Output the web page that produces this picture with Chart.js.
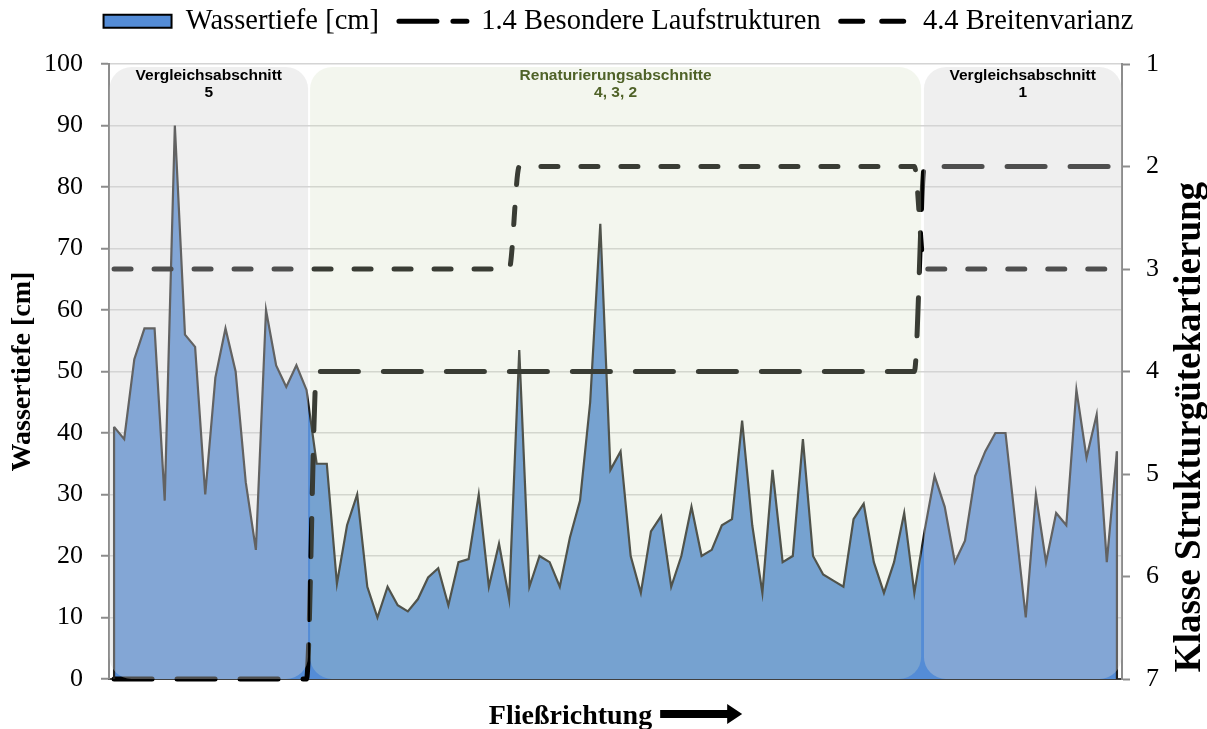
<!DOCTYPE html>
<html>
<head>
<meta charset="utf-8">
<script src="https://cdn.jsdelivr.net/npm/chart.js@4.4.0/dist/chart.umd.min.js"></script>
<style>
  html, body { margin: 0; padding: 0; background: #fff; }
</style>
</head>
<body>
<canvas id="chart" width="1207" height="729"></canvas>
<script>
// Messpunkte entlang der Strecke (Fließrichtung)
const stations = Array.from({ length: 100 }, (_, i) => String(i + 1));

const wassertiefe = [
  41, 39, 52, 57, 57, 29, 90, 56, 54, 30, 49, 57, 50, 32, 21, 60, 51, 47.5, 51, 47,
  35, 35, 15.5, 25, 30, 15, 10, 15, 12, 11, 13, 16.5, 18, 12, 19, 19.5, 30, 15, 22, 13,
  53.5, 15, 20, 19, 15, 23, 29, 45, 74, 34, 37, 20, 14, 24, 26.5, 15, 20, 28, 20, 21,
  25, 26, 42, 25, 14, 34, 19, 20, 39, 20, 17, 16, 15, 26, 28.5, 19, 14, 19, 27, 14,
  24, 33, 28, 19, 22.5, 33, 37, 40, 40, 25, 10, 30, 19, 27, 25, 47, 36, 43, 19, 37
];

const laufstrukturen = [
  7, 7, 7, 7, 7, 7, 7, 7, 7, 7, 7, 7, 7, 7, 7, 7, 7, 7, 7, 7,
  4, 4, 4, 4, 4, 4, 4, 4, 4, 4, 4, 4, 4, 4, 4, 4, 4, 4, 4, 4,
  4, 4, 4, 4, 4, 4, 4, 4, 4, 4, 4, 4, 4, 4, 4, 4, 4, 4, 4, 4,
  4, 4, 4, 4, 4, 4, 4, 4, 4, 4, 4, 4, 4, 4, 4, 4, 4, 4, 4, 4,
  2, 2, 2, 2, 2, 2, 2, 2, 2, 2, 2, 2, 2, 2, 2, 2, 2, 2, 2, 2
];

const breitenvarianz = [
  3, 3, 3, 3, 3, 3, 3, 3, 3, 3, 3, 3, 3, 3, 3, 3, 3, 3, 3, 3,
  3, 3, 3, 3, 3, 3, 3, 3, 3, 3, 3, 3, 3, 3, 3, 3, 3, 3, 3, 3,
  2, 2, 2, 2, 2, 2, 2, 2, 2, 2, 2, 2, 2, 2, 2, 2, 2, 2, 2, 2,
  2, 2, 2, 2, 2, 2, 2, 2, 2, 2, 2, 2, 2, 2, 2, 2, 2, 2, 2, 2,
  3, 3, 3, 3, 3, 3, 3, 3, 3, 3, 3, 3, 3, 3, 3, 3, 3, 3, 3, 3
];

const tiefeTicks = [0, 10, 20, 30, 40, 50, 60, 70, 80, 90, 100];
const klassenTicks = [1, 2, 3, 4, 5, 6, 7];

const abschnittTitel = [
  ['Vergleichsabschnitt', '5'],
  ['Renaturierungsabschnitte', '4, 3, 2'],
  ['Vergleichsabschnitt', '1']
];

// Abschnittskästen (Grenzen in Kategorie-Einheiten), halbtransparent über dem Diagramm
const kaesten = [
  { von: -0.45, bis: 19.15, fill: 'rgba(211,211,211,0.37)', textColor: '#000000' },
  { von: 19.35, bis: 79.67, fill: 'rgba(211,222,193,0.27)', textColor: '#4f6228' },
  { von: 79.95, bis: 99.45, fill: 'rgba(211,211,211,0.37)', textColor: '#000000' }
];

// Strichmuster nur für die Legende
const legendDash = [null, [38, 16], [22, 19]];

const serif = 'Liberation Serif';

const abschnittPlugin = {
  id: 'abschnitte',
  afterInit(chart) {
    // Legende oben halten, Zeichenfläche beginnt trotzdem bei y = 64
    const legend = chart.legend;
    const fit = legend.fit;
    legend.fit = function () {
      fit.call(this);
      this.height = 80;
    };
    const draw = legend.draw;
    legend.draw = function () {
      const ctx = this.ctx;
      ctx.save();
      ctx.translate(15, 3);
      draw.call(this);
      ctx.restore();
    };
  },
  afterDatasetsDraw(chart) {
    const ctx = chart.ctx;
    const x = chart.scales.x;
    const y = chart.scales.y;
    const area = chart.chartArea;

    // Rand der Fläche links und rechts (wie in Excel)
    const meta = chart.getDatasetMeta(0);
    const first = meta.data[0];
    const last = meta.data[meta.data.length - 1];
    const base = y.getPixelForValue(0);
    ctx.save();
    ctx.strokeStyle = '#202020';
    ctx.lineWidth = 2.2;
    ctx.beginPath();
    ctx.moveTo(first.x, first.y);
    ctx.lineTo(first.x, base);
    ctx.moveTo(last.x, last.y);
    ctx.lineTo(last.x, base);
    ctx.stroke();
    ctx.restore();

    kaesten.forEach((k, i) => {
      const left = x.getPixelForValue(k.von);
      const right = x.getPixelForValue(k.bis);
      const top = area.top + 3;
      const bottom = area.bottom;
      ctx.save();
      ctx.fillStyle = k.fill;
      ctx.beginPath();
      ctx.roundRect(left, top, right - left, bottom - top, 22);
      ctx.fill();

      ctx.fillStyle = k.textColor;
      ctx.font = 'bold 15.5px "Liberation Sans"';
      ctx.textAlign = 'center';
      ctx.textBaseline = 'middle';
      const cx = (left + right) / 2;
      abschnittTitel[i].forEach((line, j) => {
        ctx.fillText(line, cx, top + 9 + j * 17);
      });
      ctx.restore();
    });
  },
  afterDraw(chart) {
    const ctx = chart.ctx;
    const area = chart.chartArea;

    // rechte Achsenbeschriftung, von unten nach oben gelesen
    ctx.save();
    ctx.translate(1190, 427);
    ctx.rotate(-Math.PI / 2);
    ctx.font = 'bold 37px "' + serif + '"';
    ctx.fillStyle = '#000';
    ctx.textAlign = 'center';
    ctx.textBaseline = 'middle';
    ctx.fillText('Klasse Strukturgütekartierung', 0, 0);
    ctx.restore();

    // Fließrichtung mit Pfeil
    ctx.save();
    ctx.font = 'bold 28px "' + serif + '"';
    ctx.fillStyle = '#000';
    ctx.textBaseline = 'alphabetic';
    const txt = 'Fließrichtung';
    const tw = ctx.measureText(txt).width;
    const arrowW = 82;
    const gap = 8;
    const total = tw + gap + arrowW;
    const startX = (area.left + area.right) / 2 - total / 2;
    const baseY = 724;
    ctx.fillText(txt, startX, baseY);
    const ax = startX + tw + gap;
    const ay = 714;
    ctx.beginPath();
    ctx.moveTo(ax, ay - 4);
    ctx.lineTo(ax + arrowW - 15, ay - 4);
    ctx.lineTo(ax + arrowW - 15, ay - 10);
    ctx.lineTo(ax + arrowW, ay);
    ctx.lineTo(ax + arrowW - 15, ay + 10);
    ctx.lineTo(ax + arrowW - 15, ay + 4);
    ctx.lineTo(ax, ay + 4);
    ctx.closePath();
    ctx.fill();
    ctx.restore();
  }
};

new Chart(document.getElementById('chart'), {
  type: 'line',
  data: {
    labels: stations,
    datasets: [{
      label: 'Wassertiefe [cm]',
      data: wassertiefe,
      yAxisID: 'y',
      backgroundColor: '#548cd6',
      borderColor: '#202020',
      borderWidth: 2.2,
      fill: 'origin',
      tension: 0,
      pointRadius: 0,
      pointStyle: 'rect',
      order: 2
    }, {
      label: '1.4 Besondere Laufstrukturen',
      data: laufstrukturen,
      yAxisID: 'y2',
      borderColor: '#000000',
      backgroundColor: '#000000',
      borderWidth: 5,
      borderDash: [38, 25],
      borderCapStyle: 'round',
      cubicInterpolationMode: 'monotone',
      fill: false,
      pointRadius: 0,
      pointStyle: 'line',
      clip: false,
      order: 1
    }, {
      label: '4.4 Breitenvarianz',
      data: breitenvarianz,
      yAxisID: 'y2',
      borderColor: '#000000',
      backgroundColor: '#000000',
      borderWidth: 5,
      borderDash: [17, 23],
      borderCapStyle: 'round',
      cubicInterpolationMode: 'monotone',
      fill: false,
      pointRadius: 0,
      pointStyle: 'line',
      clip: false,
      order: 0
    }]
  },
  options: {
    responsive: false,
    animation: false,
    layout: { padding: { top: -16, left: 0, right: 0, bottom: 0 } },
    plugins: {
      legend: {
        position: 'top',
        labels: {
          usePointStyle: true,
          pointStyleWidth: 68,
          boxHeight: 13,
          color: '#000',
          font: { family: serif, size: 28.5 },
          padding: 20,
          sort: (a, b) => a.datasetIndex - b.datasetIndex,
          generateLabels(chart) {
            const items = Chart.defaults.plugins.legend.labels.generateLabels(chart);
            items.forEach(item => {
              const i = item.datasetIndex;
              if (legendDash[i]) {
                item.lineDash = legendDash[i];
                item.lineCap = 'round';
                item.lineWidth = 5;
                item.strokeStyle = '#000';
              } else {
                item.strokeStyle = '#000';
                item.lineWidth = 2;
              }
            });
            return items;
          }
        }
      },
      tooltip: { enabled: false }
    },
    scales: {
      x: {
        type: 'category',
        offset: true,
        ticks: { display: false },
        grid: { display: false, drawTicks: false },
        border: { display: true, color: '#404040', width: 2 },
        afterFit: s => { s.height = 50; }
      },
      y: {
        position: 'left',
        min: 0,
        max: 100,
        afterBuildTicks: s => { s.ticks = tiefeTicks.map(v => ({ value: v })); },
        ticks: { color: '#000', font: { family: serif, size: 26 }, padding: 18 },
        grid: { color: '#d4d4d4', lineWidth: 1.5, tickLength: 8, tickColor: '#8c8c8c', tickWidth: 2 },
        border: { color: '#8c8c8c', width: 2 },
        title: {
          display: true,
          text: 'Wassertiefe [cm]',
          color: '#000',
          font: { family: serif, size: 28, weight: 'bold' },
          padding: { top: 6, bottom: 0 }
        },
        afterFit: s => { s.width = 109; }
      },
      y2: {
        position: 'right',
        reverse: true,
        min: 1,
        max: 7,
        afterBuildTicks: s => { s.ticks = klassenTicks.map(v => ({ value: v })); },
        ticks: { color: '#000', font: { family: serif, size: 26 }, padding: 16 },
        grid: { drawOnChartArea: false, tickLength: 8, tickColor: '#8c8c8c', tickWidth: 2 },
        border: { color: '#8c8c8c', width: 2 },
        afterFit: s => { s.width = 85; }
      }
    }
  },
  plugins: [abschnittPlugin]
});
</script>
</body>
</html>
